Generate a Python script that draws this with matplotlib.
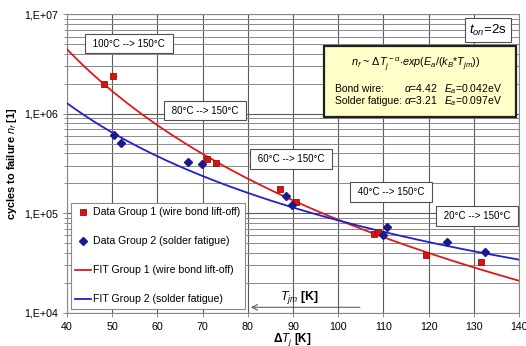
import numpy as np
import matplotlib
matplotlib.use("Agg")
import matplotlib.pyplot as plt
from matplotlib.ticker import FixedLocator, LogLocator, NullFormatter, FuncFormatter

plt.rcParams['font.family'] = ['Liberation Sans', 'DejaVu Sans']
plt.rcParams['mathtext.fontset'] = 'custom'
plt.rcParams['mathtext.rm'] = 'Liberation Sans'
plt.rcParams['mathtext.it'] = 'Liberation Sans:italic'
plt.rcParams['mathtext.bf'] = 'Liberation Sans:bold'
plt.rcParams['mathtext.bfit'] = 'Liberation Sans:bold:italic'

# Measured lifetimes: temperature swing dT_j [K] and cycles to failure
g1_dT = [48.1, 50.2, 71.0, 72.9, 87.1, 90.7, 107.9, 108.9, 119.5, 131.6]
g1_nf = [1.98e6, 2.40e6, 3.53e5, 3.17e5, 1.74e5, 1.29e5, 6.2e4, 6.5e4, 3.81e4, 3.24e4]
g2_dT = [50.5, 51.9, 66.8, 69.9, 88.5, 89.8, 109.9, 110.9, 124.0, 132.5]
g2_nf = [6.12e5, 5.12e5, 3.25e5, 3.12e5, 1.50e5, 1.20e5, 6.07e4, 7.3e4, 5.08e4, 4.06e4]

# Fit model n_f = A * dT^-alpha * exp(Ea / (kB * Tjm)), Tjm = Tmax - dT/2
alpha_bond, Ea_bond = 4.42, 0.042
alpha_solder, Ea_solder = 3.21, 0.097
nf_at_40_bond, nf_at_40_solder = 4.47e6, 1.28e6
T_max = 150.0 + 273.15
k_B = 8.617e-5

ramp_labels = ["100°C --> 150°C", "80°C --> 150°C", "60°C --> 150°C",
               "40°C --> 150°C", "20°C --> 150°C"]
ramp_pos = [(53.7, 10**6.708), (70.5, 10**6.033), (89.6, 10**5.547),
            (111.7, 10**5.21), (130.7, 10**4.971)]

W, H = 526, 346


def fit_curve(dT, alpha, Ea, n40):
    Tjm = T_max - dT / 2.0
    Tjm40 = T_max - 20.0
    return n40 * (dT / 40.0) ** (-alpha) * np.exp(Ea / k_B * (1.0 / Tjm - 1.0 / Tjm40))


def fx(px):
    return px / W


def fy(py):
    return 1 - py / H


fig = plt.figure(figsize=(5.26, 3.46), dpi=100)
ax = fig.add_axes([0.1274, 0.0968, 0.8593, 0.8613])
ax.set_yscale('log')
ax.set_xlim(40, 140)
ax.set_ylim(1e4, 1e7)

ax.xaxis.set_major_locator(FixedLocator(np.arange(40, 141, 10)))
ax.yaxis.set_major_locator(LogLocator(base=10, numticks=10))
ax.yaxis.set_minor_locator(LogLocator(base=10, subs=np.arange(2, 10), numticks=20))
ax.yaxis.set_minor_formatter(NullFormatter())
ax.yaxis.set_major_formatter(FuncFormatter(lambda v, p: "1,E+%02d" % int(round(np.log10(v)))))

ax.grid(True, which='major', color='#5a5a5a', lw=0.8)
ax.grid(True, which='minor', axis='y', color='#8a8a8a', lw=0.7)
ax.set_axisbelow(True)
for s in ax.spines.values():
    s.set_color('#8a8a8a')
    s.set_linewidth(0.8)
ax.tick_params(which='both', labelsize=7.7, color='#8a8a8a', length=3, width=0.7)
ax.tick_params(which='minor', length=2)

xs = np.linspace(40, 140, 300)
ax.plot(xs, fit_curve(xs, alpha_bond, Ea_bond, nf_at_40_bond), color='#e01818', lw=1.3,
        label='FIT Group 1 (wire bond lift-off)', zorder=3)
ax.plot(xs, fit_curve(xs, alpha_solder, Ea_solder, nf_at_40_solder), color='#2020d0', lw=1.3,
        label='FIT Group 2 (solder fatigue)', zorder=3)
ax.plot(g1_dT, g1_nf, ls='none', marker='s', ms=5, mfc='#e01010', mec='#901010', mew=0.6,
        label='Data Group 1 (wire bond lift-off)', zorder=4)
ax.plot(g2_dT, g2_nf, ls='none', marker='D', ms=3.6, mfc='#1a1a90', mec='#1a1a90',
        label='Data Group 2 (solder fatigue)', zorder=4)

handles, labels = ax.get_legend_handles_labels()
order = [2, 3, 0, 1]
leg = ax.legend([handles[i] for i in order], [labels[i] for i in order],
                loc='lower left', bbox_to_anchor=(0.008, 0.011), fontsize=7.6,
                frameon=True, fancybox=False, edgecolor='#8a8a8a', framealpha=1,
                labelspacing=1.8, handlelength=1.5, handletextpad=0.15, borderpad=0.45,
                borderaxespad=0)
leg.get_frame().set_linewidth(0.8)

box = dict(boxstyle='square,pad=0.5', fc='white', ec='#505050', lw=0.8)
for lab, (x, y) in zip(ramp_labels, ramp_pos):
    ax.text(x, y, " " + lab + " ", fontsize=7.0, ha='center', va='center', bbox=box, zorder=5)

fig.text(fx(488), fy(30), r"$t_{on}$=2s", fontsize=9.5, ha='center', va='center',
         bbox=dict(boxstyle='square,pad=0.35', fc='white', ec='#505050', lw=0.8), zorder=5)

# parameter box
fig.patches.append(plt.Rectangle((fx(324), fy(116.7)), (516 - 324) / W, (116.7 - 45.7) / H,
                                 transform=fig.transFigure, fc='#ffffc8', ec='#202020', lw=1.6,
                                 zorder=6))
fig.text(fx(415.5), fy(64), r"$n_f$ ~ $\Delta T_j^{\,-\alpha}$$\cdot$$exp(E_a/(k_B$*$T_{jm}))$",
         fontsize=7.8, ha='center', va='center', zorder=7)
row_y = [92.5, 104.3]
for yy, name, a_txt, e_txt in zip(row_y, ["Bond wire:", "Solder fatigue:"],
                                  [r"$\alpha$=4.42", r"$\alpha$=3.21"],
                                  [r"$E_a$=0.042eV", r"$E_a$=0.097eV"]):
    fig.text(fx(335), fy(yy), name, fontsize=7.5, ha='left', va='baseline', zorder=7)
    fig.text(fx(404), fy(yy), a_txt, fontsize=7.5, ha='left', va='baseline', zorder=7)
    fig.text(fx(444), fy(yy), e_txt, fontsize=7.5, ha='left', va='baseline', zorder=7)

# T_jm direction arrow
fig.text(fx(299), fy(298), r"$\boldsymbol{T_{jm}}$ [K]", fontsize=8.8, fontweight='bold',
         ha='center', va='center')
ax.annotate('', xy=(fx(248), fy(307.3)), xytext=(fx(362.7), fy(307.3)),
            xycoords='figure fraction', textcoords='figure fraction',
            arrowprops=dict(arrowstyle='->', color='#606060', lw=0.8))

fig.text(fx(292.5), fy(339.3), r"$\mathbf{\Delta}\boldsymbol{T_j}$ [K]", fontsize=8.5,
         fontweight='bold', ha='center', va='center')
fig.text(fx(12.5), fy(164), r"cycles to failure $\boldsymbol{n_f}$ [1]", fontsize=7.9,
         fontweight='bold', rotation=90, ha='center', va='center')

fig.savefig('out.png', dpi=100)
